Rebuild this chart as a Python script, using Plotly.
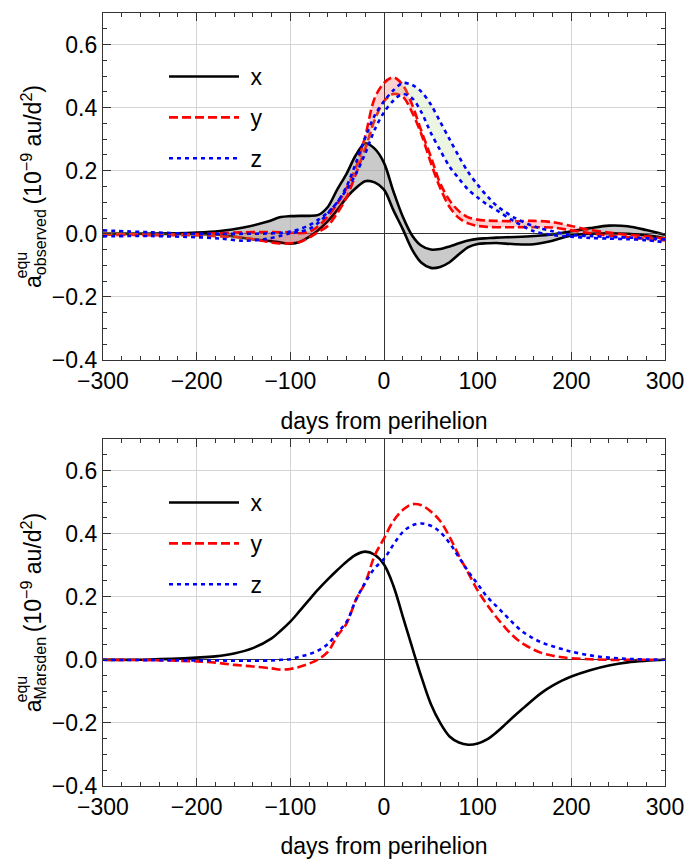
import plotly.graph_objects as go

# ---------------- data ----------------
days_obs = [-300, -250, -200, -175, -150, -125, -110, -100, -90, -80, -70, -60, -50, -40, -30, -20, -10,
            0, 10, 20, 30, 40, 50, 60, 70, 80, 90, 100, 110, 120, 140, 160, 180, 200, 220, 240, 260, 280, 300]

x_obs_hi = [0.0, 0.0, 0.004, 0.009, 0.02, 0.038, 0.053, 0.056, 0.057, 0.057, 0.06, 0.085, 0.14, 0.19, 0.25, 0.287, 0.27,
            0.225, 0.135, 0.055, -0.005, -0.038, -0.05, -0.048, -0.04, -0.03, -0.021, -0.016, -0.014, -0.012, -0.01,
            -0.007, -0.002, 0.008, 0.018, 0.026, 0.024, 0.012, -0.003]
x_obs_lo = [0.0, 0.0, -0.001, -0.003, -0.013, -0.022, -0.028, -0.031, -0.026, -0.01, 0.012, 0.04, 0.075, 0.115, 0.145,
            0.167, 0.163, 0.14, 0.075, 0.015, -0.05, -0.092, -0.108, -0.105, -0.09, -0.065, -0.042, -0.032, -0.03,
            -0.029, -0.033, -0.033, -0.022, -0.005, 0.0, 0.002, 0.0, -0.005, -0.014]

y_obs_hi = [0.0, -0.002, -0.001, 0.002, 0.005, 0.006, 0.005, 0.004, 0.002, 0.006, 0.025, 0.055, 0.095, 0.145, 0.21,
            0.31, 0.43, 0.478, 0.496, 0.472, 0.41, 0.325, 0.245, 0.16, 0.106, 0.072, 0.052, 0.045, 0.042, 0.041, 0.04,
            0.041, 0.037, 0.025, 0.012, 0.004, -0.003, -0.008, -0.015]
y_obs_lo = [-0.003, -0.004, -0.005, -0.008, -0.013, -0.025, -0.031, -0.03, -0.026, -0.012, 0.006, 0.025, 0.065, 0.115,
            0.19, 0.27, 0.36, 0.42, 0.443, 0.435, 0.385, 0.315, 0.225, 0.145, 0.085, 0.05, 0.033, 0.025, 0.022, 0.021,
            0.021, 0.021, 0.02, 0.011, 0.002, -0.006, -0.011, -0.016, -0.021]

z_obs_hi = [0.011, 0.005, 0.0, 0.0, 0.0, 0.001, 0.003, 0.007, 0.015, 0.027, 0.045, 0.068, 0.1, 0.15, 0.225, 0.305,
            0.375, 0.42, 0.455, 0.478, 0.472, 0.45, 0.41, 0.355, 0.3, 0.245, 0.195, 0.155, 0.12, 0.09, 0.05, 0.024,
            0.008, -0.004, -0.007, -0.01, -0.012, -0.014, -0.018]
z_obs_lo = [-0.008, -0.007, -0.011, -0.015, -0.022, -0.016, -0.006, 0.002, 0.007, 0.015, 0.035, 0.065, 0.1, 0.14,
            0.19, 0.255, 0.33, 0.385, 0.422, 0.443, 0.43, 0.385, 0.32, 0.265, 0.213, 0.175, 0.14, 0.115, 0.093, 0.075,
            0.038, 0.008, -0.004, -0.009, -0.013, -0.015, -0.017, -0.02, -0.027]

days_mar = [-300, -250, -200, -180, -160, -140, -120, -110, -100, -90, -80, -70, -60, -50, -40, -30, -20, -10,
            0, 10, 20, 30, 40, 50, 60, 70, 80, 90, 100, 110, 120, 130, 140, 150, 160, 170, 180, 190, 200, 220, 240,
            260, 280, 300]
x_mar = [0.0, 0.001, 0.007, 0.011, 0.02, 0.037, 0.068, 0.093, 0.121, 0.155, 0.19, 0.224, 0.255, 0.284, 0.311, 0.333,
         0.343, 0.333, 0.302, 0.235, 0.138, 0.04, -0.055, -0.14, -0.2, -0.243, -0.262, -0.269, -0.265, -0.252, -0.23,
         -0.203, -0.176, -0.15, -0.124, -0.101, -0.082, -0.066, -0.053, -0.033, -0.018, -0.008, -0.003, 0.0]
y_mar = [0.0, -0.001, -0.005, -0.009, -0.016, -0.021, -0.027, -0.031, -0.029, -0.022, -0.012, 0.002, 0.025, 0.075,
         0.115, 0.19, 0.245, 0.33, 0.385, 0.44, 0.475, 0.493, 0.49, 0.47, 0.44, 0.39, 0.33, 0.275, 0.22, 0.175, 0.135,
         0.1, 0.07, 0.048, 0.032, 0.02, 0.013, 0.008, 0.005, 0.002, 0.0, 0.0, 0.0, 0.0]
z_mar = [0.0, -0.001, -0.002, -0.002, -0.003, -0.003, -0.002, 0.0, 0.002, 0.01, 0.018, 0.03, 0.05, 0.085, 0.12, 0.19,
         0.245, 0.29, 0.32, 0.365, 0.405, 0.426, 0.432, 0.425, 0.405, 0.37, 0.325, 0.28, 0.24, 0.2, 0.17, 0.14, 0.11,
         0.085, 0.067, 0.053, 0.043, 0.034, 0.026, 0.014, 0.007, 0.003, 0.001, 0.0]

labels = ["x", "y", "z"]
x_ticks = [-300, -200, -100, 0, 100, 200, 300]
y_ticks = [-0.4, -0.2, 0.0, 0.2, 0.4, 0.6]

# ---------------- styles ----------------
FONT = "Liberation Sans, Arial, Helvetica, sans-serif"
colors = ["#000000", "#ff0000", "#0000ff"]
dashes = ["solid", "9px,4px", "4px,4px"]
fills = ["rgba(150,150,150,0.5)", "rgba(255,0,0,0.18)", "rgba(170,210,120,0.22)"]
LW = 2.6

W, H = 688, 859
ML, MR, MT, MB = 103, 23, 13, 73
PW, PH = W - ML - MR, H - MT - MB


def px2paper(px, py):
    return (px - ML) / PW, (H - MB - py) / PH


top_bottom = px2paper(0, 360)[1]
bot_top = px2paper(0, 439)[1]

fig = go.Figure()

bands = [(x_obs_lo, x_obs_hi), (y_obs_lo, y_obs_hi), (z_obs_lo, z_obs_hi)]
for i, (lo, hi) in enumerate(bands):
    fig.add_trace(go.Scatter(
        x=days_obs, y=lo, mode="lines", name="\u00a0" + labels[i], legendgroup=labels[i], legend="legend",
        line=dict(color=colors[i], width=LW, dash=dashes[i], shape="spline", smoothing=0.9),
        xaxis="x", yaxis="y"))
    fig.add_trace(go.Scatter(
        x=days_obs, y=hi, mode="lines", name=labels[i], legendgroup=labels[i], showlegend=False,
        fill="tonexty", fillcolor=fills[i],
        line=dict(color=colors[i], width=LW, dash=dashes[i], shape="spline", smoothing=0.9),
        xaxis="x", yaxis="y"))

for i, ys in enumerate([x_mar, y_mar, z_mar]):
    fig.add_trace(go.Scatter(
        x=days_mar, y=ys, mode="lines", name="\u00a0" + labels[i], legendgroup=labels[i] + "2", legend="legend2",
        line=dict(color=colors[i], width=LW, dash=dashes[i], shape="spline", smoothing=1.0),
        xaxis="x2", yaxis="y2"))

axis_common = dict(
    automargin=False,
    showline=True, linecolor="#333333", linewidth=1.3, mirror="allticks",
    ticks="inside", ticklen=8, tickwidth=1.2, tickcolor="#333333",
    showgrid=True, gridcolor="#d4d4d4", gridwidth=1,
    zeroline=True, zerolinecolor="#333333", zerolinewidth=1.2,
    tickfont=dict(family=FONT, size=23, color="#000000"),
)

xaxis_common = dict(axis_common, range=[-300, 300], tickmode="array", tickvals=x_ticks,
                    ticktext=[("\u2212" + str(-v)) if v < 0 else str(v) for v in x_ticks],
                    minor=dict(ticks="inside", ticklen=4, tickcolor="#333333", dtick=20, tick0=0, showgrid=False),
                    title=dict(text="days from perihelion", font=dict(family=FONT, size=23, color="#000"), standoff=20))
yaxis_common = dict(axis_common, range=[-0.4, 0.7], tickmode="array", tickvals=y_ticks,
                    ticktext=[("\u2212%.1f" % -v) if v < 0 else "%.1f" % v for v in y_ticks],
                    minor=dict(ticks="inside", ticklen=4, tickcolor="#333333", dtick=0.05, tick0=0, showgrid=False))

units = "\u2009(10<sup>\u22129</sup> au/d<sup>2</sup>)"
ytitle_font = dict(family=FONT, size=23, color="#000")

layout = dict(
    width=W, height=H, margin=dict(l=ML, r=MR, t=MT, b=MB, autoexpand=False),
    paper_bgcolor="white", plot_bgcolor="white",
    font=dict(family=FONT, color="#000"),
    xaxis=dict(xaxis_common, anchor="y", domain=[0, 1]),
    yaxis=dict(yaxis_common, anchor="x", domain=[top_bottom, 1],
               title=dict(text="\u00a0\u00a0a<sub>observed</sub>" + units, font=ytitle_font, standoff=3)),
    xaxis2=dict(xaxis_common, anchor="y2", domain=[0, 1]),
    yaxis2=dict(yaxis_common, anchor="x2", domain=[0, bot_top],
                title=dict(text="\u00a0\u00a0a<sub>Marsden</sub>" + units, font=ytitle_font, standoff=3)),
)

leg_common = dict(font=dict(family=FONT, size=23, color="#000"), bgcolor="rgba(0,0,0,0)",
                  itemwidth=70, tracegroupgap=8, xanchor="left", yanchor="top")
lx, ly = px2paper(164, 55)
layout["legend"] = dict(leg_common, x=lx, y=ly)
lx2, ly2 = px2paper(164, 481)
layout["legend2"] = dict(leg_common, x=lx2, y=ly2)

fig.update_layout(**layout)

annotations = []
for bottom_py in (281, 705):
    xe, ye = px2paper(21, bottom_py)
    annotations.append(dict(text="equ", font=dict(family=FONT, size=16, color="#000"), x=xe, y=ye,
                            xref="paper", yref="paper", textangle=-90, xanchor="center", yanchor="bottom",
                            showarrow=False))
fig.update_layout(annotations=annotations)

fig.write_html("out.html", config={"displayModeBar": False},
               post_script="document.body.style.margin='0';document.body.style.overflow='hidden';")
